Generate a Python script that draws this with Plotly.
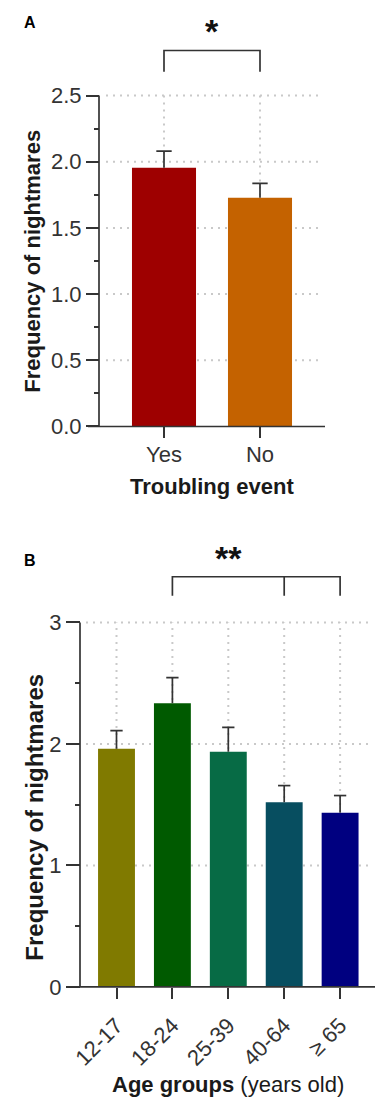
import plotly.graph_objects as go

# ---------------- data ----------------
event_labels = ["Yes", "No"]
event_means = [1.955, 1.728]
event_err = [0.125, 0.108]
event_colors = ["#9E0000", "#C46200"]

age_labels = ["12-17", "18-24", "25-39", "40-64", "≥ 65"]
age_means = [1.96, 2.335, 1.936, 1.52, 1.434]
age_err = [0.15, 0.21, 0.20, 0.137, 0.141]
age_colors = ["#807A00", "#005A00", "#076B45", "#074E60", "#000080"]

a_yticks = [0.0, 0.5, 1.0, 1.5, 2.0, 2.5]
a_yticklabels = ["0.0", "0.5", "1.0", "1.5", "2.0", "2.5"]
a_minor = [0.25, 0.75, 1.25, 1.75, 2.25]
b_yticks = [0, 1, 2, 3]
b_minor = [0.5, 1.5, 2.5]

W, H = 383, 1111
AXC = "#333333"
TXT = "#1a1a1a"
FONT = "Liberation Sans, Arial, sans-serif"


def px(x):
    return x / W


def py(y):
    return 1 - y / H


fig = go.Figure()

# ---------------- panel geometry (pixels) ----------------
A_left, A_right = 80, 317
A_c0, A_step = 156, 96
A_yaxis_px = 91
A_zero, A_unit = 422.3, 133.6
A_bottom, A_top = 425, 30
xa_range = [-(A_c0 - A_left) / A_step, (A_right - A_c0) / A_step]
ya_range = [-(A_bottom - A_zero) / A_unit, (A_zero - A_top) / A_unit]

B_left, B_right = 60, 369
B_c0, B_step = 108.5, 55.9
B_yaxis_px = 72
B_zero, B_unit = 987.8, 122.6
B_bottom, B_top = 991, 540
xb_range = [-(B_c0 - B_left) / B_step, (B_right - B_c0) / B_step]
yb_range = [-(B_bottom - B_zero) / B_unit, (B_zero - B_top) / B_unit]


def xa_data(p):
    return (p - A_c0) / A_step


def xb_data(p):
    return (p - B_c0) / B_step


def err_lines(means, errs, half_cap):
    xs, ys = [], []
    for i, (m, e) in enumerate(zip(means, errs)):
        xs += [i, i, None, i - half_cap, i + half_cap, None]
        ys += [m, m + e, None, m + e, m + e, None]
    return xs, ys


# ---------------- traces ----------------
fig.add_trace(go.Bar(
    x=list(range(len(event_labels))), y=event_means, width=0.667,
    marker=dict(color=event_colors, line=dict(width=0)),
    xaxis="x", yaxis="y", showlegend=False, hoverinfo="skip"))
ex, ey = err_lines(event_means, event_err, 0.08)
fig.add_trace(go.Scatter(x=ex, y=ey, mode="lines", line=dict(color=AXC, width=1.7),
                         xaxis="x", yaxis="y", showlegend=False, hoverinfo="skip"))

fig.add_trace(go.Bar(
    x=list(range(len(age_labels))), y=age_means, width=0.66,
    marker=dict(color=age_colors, line=dict(width=0)),
    xaxis="x2", yaxis="y2", showlegend=False, hoverinfo="skip"))
bx, by = err_lines(age_means, age_err, 0.11)
fig.add_trace(go.Scatter(x=bx, y=by, mode="lines", line=dict(color=AXC, width=1.7),
                         xaxis="x2", yaxis="y2", showlegend=False, hoverinfo="skip"))

tickfont = dict(family=FONT, size=22, color="#333333")

fig.update_layout(
    width=W, height=H, autosize=False,
    margin=dict(l=0, r=0, t=0, b=0),
    paper_bgcolor="white", plot_bgcolor="rgba(0,0,0,0)",
    font=dict(family=FONT, color=TXT),
    xaxis=dict(domain=[px(A_left), px(A_right)], range=xa_range,
               anchor="free", position=py(A_zero),
               tickmode="array", tickvals=list(range(len(event_labels))),
               ticktext=event_labels, ticks="outside", ticklen=11, tickwidth=1.7,
               tickcolor=AXC, showgrid=False, zeroline=False, showline=False,
               ticklabelstandoff=-3,
               tickfont=tickfont, fixedrange=True),
    yaxis=dict(domain=[py(A_bottom), py(A_top)], range=ya_range,
               anchor="free", position=px(A_yaxis_px),
               tickmode="array", tickvals=a_yticks, ticktext=a_yticklabels,
               ticks="outside", ticklen=13, tickwidth=1.7, tickcolor=AXC,
               minor=dict(tickmode="array", tickvals=a_minor, ticks="outside",
                          ticklen=5, tickwidth=1.7, tickcolor=AXC, showgrid=False),
               showgrid=False, zeroline=False, showline=False,
               tickfont=tickfont, fixedrange=True),
    xaxis2=dict(domain=[px(B_left), px(B_right)], range=xb_range,
                anchor="free", position=py(B_zero),
                tickmode="array", tickvals=list(range(len(age_labels))),
                ticktext=age_labels, tickangle=-45,
                ticks="outside", ticklen=11, tickwidth=1.7, tickcolor=AXC,
                showgrid=False, zeroline=False, showline=False,
                ticklabelstandoff=5,
                tickfont=tickfont, fixedrange=True),
    yaxis2=dict(domain=[py(B_bottom), py(B_top)], range=yb_range,
                anchor="free", position=px(B_yaxis_px),
                tickmode="array", tickvals=b_yticks,
                ticks="outside", ticklen=14, tickwidth=1.7, tickcolor=AXC,
                minor=dict(tickmode="array", tickvals=b_minor, ticks="outside",
                           ticklen=5, tickwidth=1.7, tickcolor=AXC, showgrid=False),
                showgrid=False, zeroline=False, showline=False,
                tickfont=tickfont, fixedrange=True),
)

shapes = []
GRID = dict(color="#c9c9c9", width=2, dash="2px,5px")
LINE = dict(color=AXC, width=1.7)

for v in a_yticks[1:]:
    shapes.append(dict(type="line", xref="x", yref="y", layer="below",
                       x0=xa_data(98), x1=xa_data(313), y0=v, y1=v, line=GRID))
for i in range(len(event_labels)):
    shapes.append(dict(type="line", xref="x", yref="y", layer="below",
                       x0=i, x1=i, y0=0, y1=a_yticks[-1], line=GRID))
shapes.append(dict(type="line", xref="x", yref="y", layer="above",
                   x0=xa_data(A_yaxis_px), x1=xa_data(A_yaxis_px), y0=0, y1=a_yticks[-1], line=LINE))
shapes.append(dict(type="line", xref="x", yref="y", layer="above",
                   x0=xa_range[0], x1=xa_range[1], y0=0, y1=0, line=LINE))
a_top, a_leg = 2.84, 2.68
shapes.append(dict(type="path", xref="x", yref="y", layer="above",
                   path=f"M 0,{a_leg} L 0,{a_top} L 1,{a_top} L 1,{a_leg}",
                   line=LINE))

for v in b_yticks[1:]:
    shapes.append(dict(type="line", xref="x2", yref="y2", layer="below",
                       x0=xb_data(78), x1=xb_data(365), y0=v, y1=v, line=GRID))
for i in range(len(age_labels)):
    shapes.append(dict(type="line", xref="x2", yref="y2", layer="below",
                       x0=i, x1=i, y0=0, y1=b_yticks[-1], line=GRID))
shapes.append(dict(type="line", xref="x2", yref="y2", layer="above",
                   x0=xb_data(B_yaxis_px), x1=xb_data(B_yaxis_px), y0=0, y1=b_yticks[-1], line=LINE))
shapes.append(dict(type="line", xref="x2", yref="y2", layer="above",
                   x0=xb_range[0], x1=xb_range[1], y0=0, y1=0, line=LINE))
b_top, b_leg = 3.376, 3.22
shapes.append(dict(type="path", xref="x2", yref="y2", layer="above",
                   path=f"M 1,{b_leg} L 1,{b_top} L 4,{b_top} L 4,{b_leg} M 3,{b_top} L 3,{b_leg}",
                   line=LINE))

fig.update_layout(shapes=shapes)

ann = []
ann.append(dict(xref="x", yref="y", x=0.5, y=a_top, text="<b>*</b>", showarrow=False,
                yanchor="bottom", yshift=-2, font=dict(family=FONT, size=34, color="#111")))
ann.append(dict(xref="x2", yref="y2", x=2.0, y=b_top, text="<b>**</b>", showarrow=False,
                yanchor="bottom", yshift=-2, font=dict(family=FONT, size=34, color="#111")))
ann.append(dict(xref="paper", yref="paper", x=px(25), y=py(256), text="<b>Frequency of nightmares</b>",
                textangle=-90, showarrow=False, xanchor="center", yanchor="middle",
                font=dict(family=FONT, size=22, color=TXT)))
ann.append(dict(xref="paper", yref="paper", x=px(204), y=py(483), text="<b>Troubling event</b>",
                showarrow=False, xanchor="center", yanchor="middle",
                font=dict(family=FONT, size=22, color=TXT)))
ann.append(dict(xref="paper", yref="paper", x=px(27), y=py(817), text="<b>Frequency of nightmares</b>",
                textangle=-90, showarrow=False, xanchor="center", yanchor="middle",
                font=dict(family=FONT, size=24, color=TXT)))
ann.append(dict(xref="paper", yref="paper", x=px(220), y=py(1086), text="<b>Age groups</b> (years old)",
                showarrow=False, xanchor="center", yanchor="middle",
                font=dict(family=FONT, size=22, color=TXT)))
ann.append(dict(xref="paper", yref="paper", x=px(22), y=py(15), text="<b>A</b>",
                showarrow=False, xanchor="center", yanchor="middle",
                font=dict(family=FONT, size=16, color="#000")))
ann.append(dict(xref="paper", yref="paper", x=px(22), y=py(558), text="<b>B</b>",
                showarrow=False, xanchor="center", yanchor="middle",
                font=dict(family=FONT, size=16, color="#000")))
fig.update_layout(annotations=ann)

fig.write_html("out.html")
